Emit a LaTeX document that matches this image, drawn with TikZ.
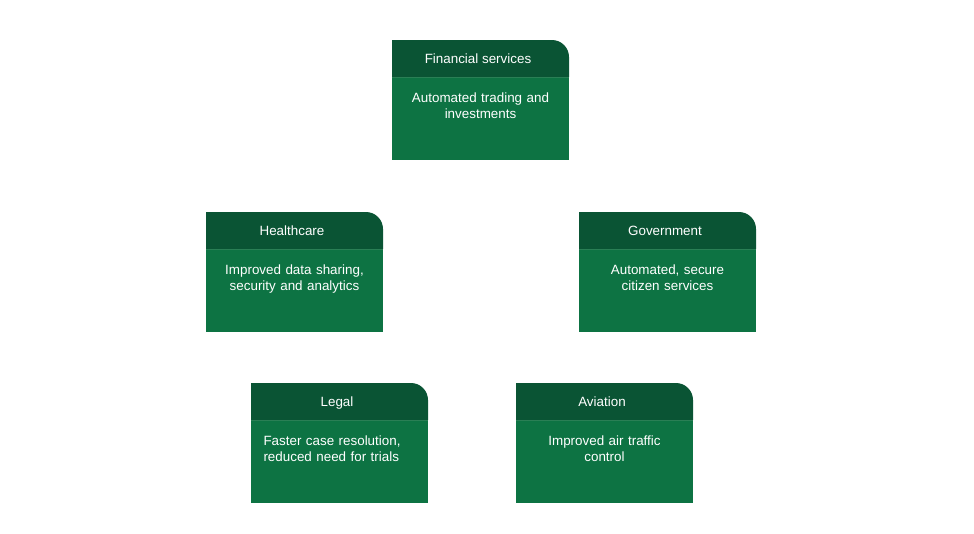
\documentclass[tikz,border=0pt]{standalone}
\usepackage{fontspec}
\setmainfont{Liberation Sans}
\definecolor{headgreen}{HTML}{0A5434}
\definecolor{bodygreen}{HTML}{0D7343}
\definecolor{seamgreen}{HTML}{2A7F55}
\tikzset{
  x=1pt, y=1pt,
  headtext/.style={inner sep=0pt, text=white, font=\fontsize{13.4}{16}\selectfont, anchor=base},
  bodytext/.style={inner sep=0pt, text=white, font=\fontsize{13.4}{16}\selectfont, anchor=north, text width=152pt, align=center},
  lefttext/.style={bodytext, align=left},
}
% #1 name, #2 left x, #3 top y (down positive), #4 header, #5 body, #6 body style
\newcommand\tile[6]{%
  \fill[bodygreen] (#2,-#3-37) rectangle (#2+177,-#3-120);
  \fill[headgreen] (#2,-#3-37) -- (#2,-#3) -- (#2+160,-#3)
     arc[start angle=90,end angle=0,radius=17] -- (#2+177,-#3-37) -- cycle;
  \draw[seamgreen, line width=0.8pt] (#2,-#3-37) -- (#2+177,-#3-37);
  \node[headtext] (#1h) at (#2+86,-#3-23) {#4};
  \node[#6] (#1b) at (#2+88.5,-#3-52.5) {#5};
}
\begin{document}
\begin{tikzpicture}
\useasboundingbox (0,0) rectangle (974,-533);
\tile{fin}{392}{40}{Financial services}{Automated trading and\\investments}{bodytext}
\tile{hea}{206}{212}{Healthcare}{Improved data sharing,\\security and analytics}{bodytext}
\tile{gov}{579}{212}{Government}{Automated, secure\\citizen services}{bodytext}
\tile{leg}{251}{383}{Legal}{Faster case resolution,\\reduced need for trials}{lefttext}
\tile{avi}{516}{383}{Aviation}{Improved air traffic\\control}{bodytext}
\end{tikzpicture}
\end{document}
